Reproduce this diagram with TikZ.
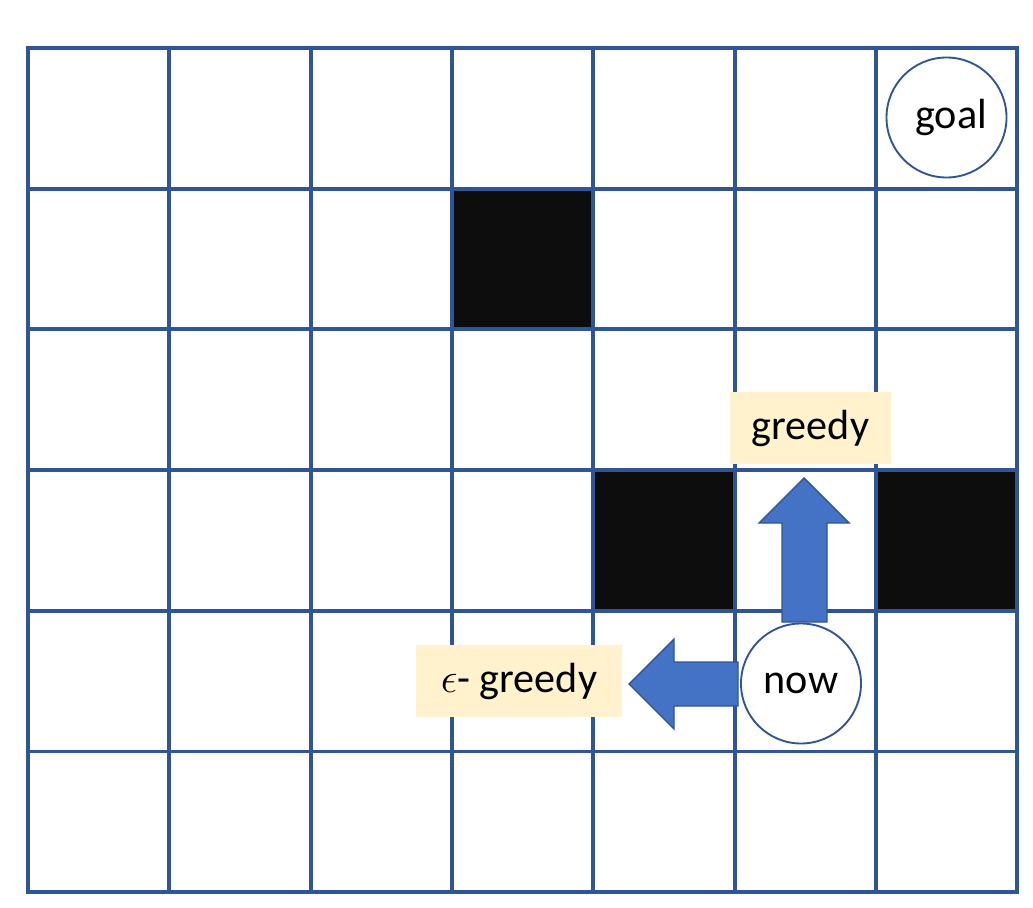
\RequirePackage{fix-cm}
\documentclass[tikz,border=0pt]{standalone}
\usepackage{fontspec}
\setmainfont{Carlito}
\usetikzlibrary{positioning}
\definecolor{gridblue}{HTML}{2F5597}
\definecolor{arrowblue}{HTML}{4472C4}
\definecolor{tagyellow}{HTML}{FFF2CC}
\definecolor{wallblack}{HTML}{0D0D0D}

\begin{document}
\begin{tikzpicture}[x=0.03cm,y=-0.03cm,
  gridline/.style={gridblue,line width=3.4pt,line cap=rect},
  state/.style={circle,draw=gridblue,line width=1.6pt,fill=white,
    minimum size=3.6cm,inner sep=0pt,font=\fontsize{36}{40}\selectfont},
  tag/.style={fill=tagyellow,inner sep=0pt,minimum height=2.16cm,
    font=\fontsize{36}{40}\selectfont},
  blockarrow/.style={fill=arrowblue,draw=gridblue,line width=1.2pt,line join=miter}]

\useasboundingbox (0,0) rectangle (1033,908);

% ---- 7 x 6 grid, cell 141.3 x 140.7 px ----
\def\cw{141.3}
\def\ch{140.7}

% walls
\foreach \c/\r in {3/1,4/3,6/3} {
    \fill[wallblack] ({28+\cw*\c},{48+\ch*\r}) rectangle ++(\cw,\ch);
}

% grid lines
\foreach \c in {0,...,7} {
    \draw[gridline] ({28+\cw*\c},48) -- ({28+\cw*\c},892);
}
\foreach \r in {0,...,6} {
    \draw[gridline] (28,{48+\ch*\r}) -- (1017,{48+\ch*\r});
}

% labels
\node[tag,minimum width=4.83cm] (greedy) at (810.5,428) {\raisebox{-3pt}{greedy}};
\node[tag,minimum width=6.18cm] (egreedy) at (519,681) {\raisebox{-3pt}{$\epsilon$- greedy}};

% block arrows
\draw[blockarrow] (804,478) -- (849,523) -- (827,523) -- (827,622)
    -- (782,622) -- (782,523) -- (759,523) -- cycle;
\draw[blockarrow] (629,684) -- (674,639) -- (674,662) -- (738,662)
    -- (738,706) -- (674,706) -- (674,729) -- cycle;

% states
\node[state] (goal) at (946.5,117.5) {\hspace{8pt}\raisebox{-4pt}{goal}};
\node[state] (now) at (801,683.5) {\raisebox{-3pt}{now}};

\end{tikzpicture}
\end{document}
